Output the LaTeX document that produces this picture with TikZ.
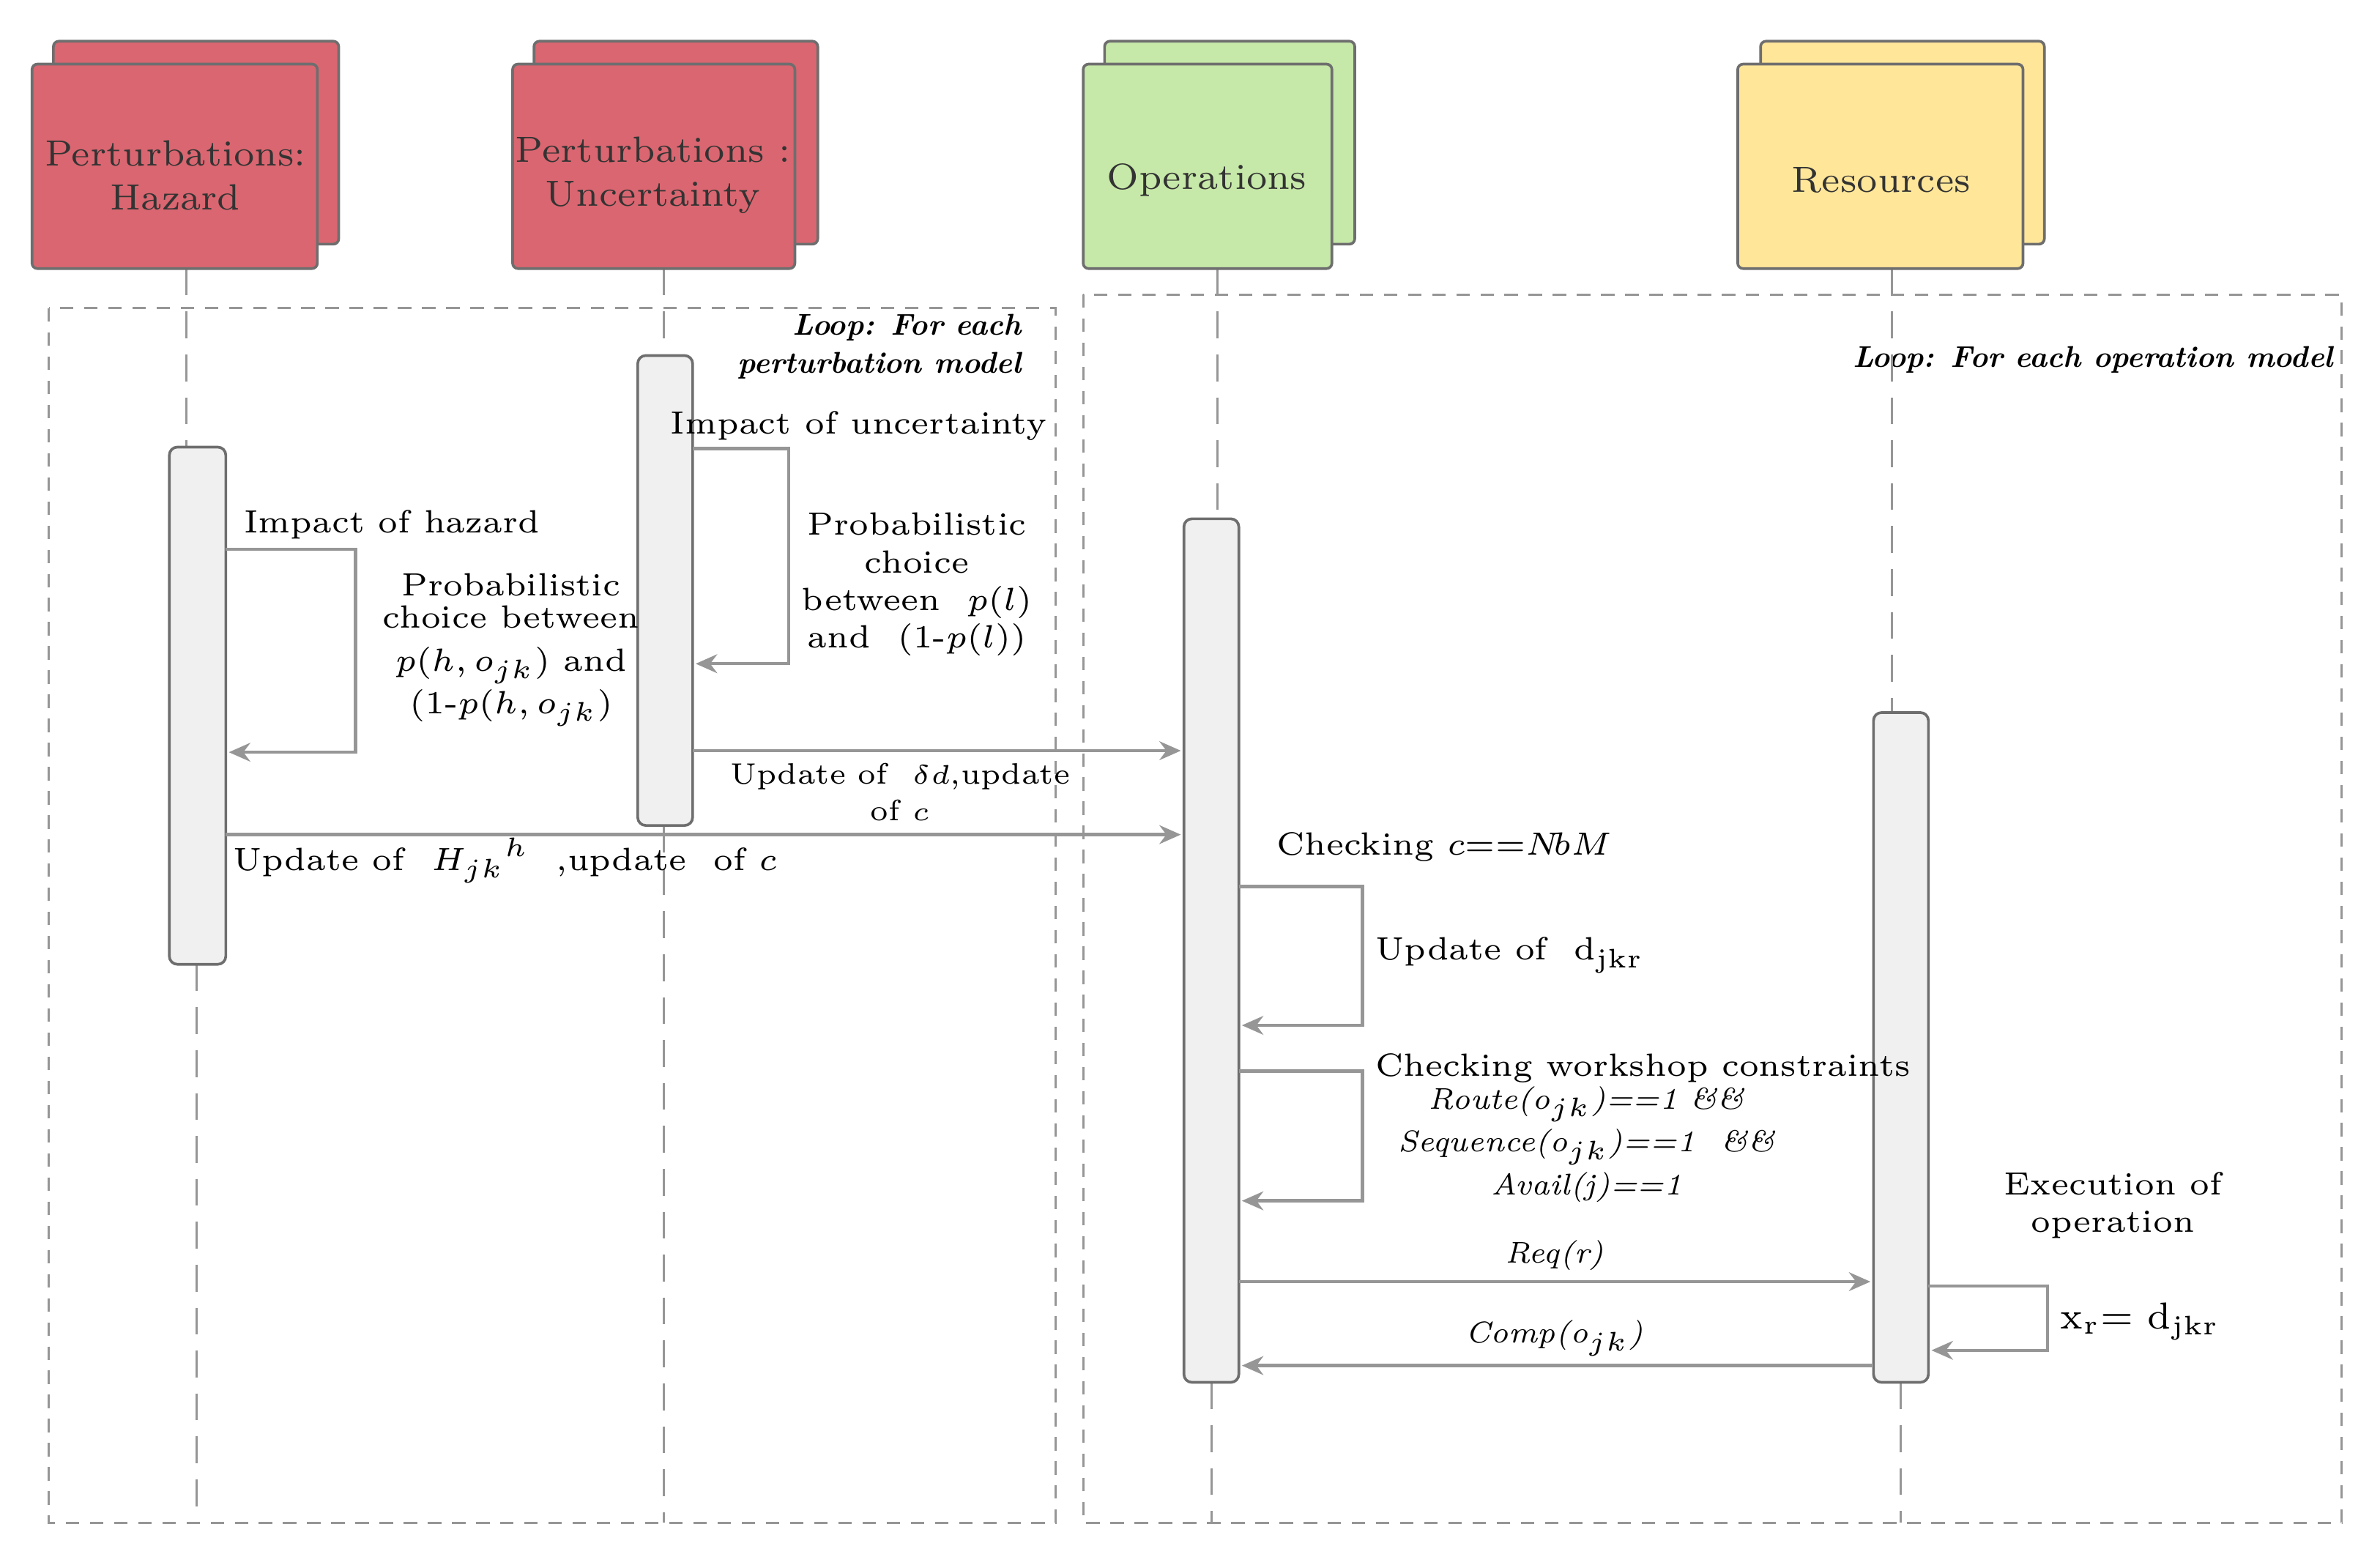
\documentclass[tikz,border=0pt]{standalone}
\usetikzlibrary{arrows.meta}
\definecolor{hz}{RGB}{217,102,112}
\definecolor{op}{RGB}{198,232,168}
\definecolor{rs}{RGB}{255,230,153}
\definecolor{ln}{RGB}{150,150,150}
\definecolor{bd}{RGB}{110,110,110}
\begin{document}
\begin{tikzpicture}[x=0.01cm,y=-0.01cm,
  head/.style={draw=bd,line width=0.5pt,rounded corners=1pt},
  bar/.style={draw=bd,fill=gray!12,line width=0.5pt,rounded corners=1.5pt},
  life/.style={draw=ln,dashed,dash pattern=on 5pt off 3pt,line width=0.4pt},
  frame/.style={draw=ln,dashed,dash pattern=on 2.5pt off 2pt,line width=0.4pt},
  msg/.style={draw=ln,line width=0.6pt,-{Stealth[length=4pt,width=3.5pt]}},
  txt/.style={font=\fontsize{6}{7}\selectfont,align=center,inner sep=0pt},
  htxt/.style={font=\fontsize{6.8}{8.2}\selectfont,align=center,inner sep=0pt,text=black!80}]
\useasboundingbox (0,0) rectangle (1560,1020);
% frames
\draw[frame] (32,202) rectangle (692,998);
\draw[frame] (710,193) rectangle (1535,998);
\node[txt,align=right,anchor=north east,font=\fontsize{5.6}{7.2}\selectfont\itshape\bfseries] (l1) at (670,205) {Loop: For each\\perturbation model};
\node[txt,anchor=east,font=\fontsize{5.6}{7}\selectfont\itshape\bfseries] (l2) at (1530,236) {Loop: For each operation model};
% lifelines
\draw[life] (122,176) -- (122,293); \draw[life] (129,632) -- (129,998);
\draw[life] (435,176) -- (435,233); \draw[life] (435,541) -- (435,998);
\draw[life] (798,176) -- (798,340); \draw[life] (794,906) -- (794,998);
\draw[life] (1240,176) -- (1240,467); \draw[life] (1246,906) -- (1246,998);
% heads
\draw[head,fill=hz] (35,27) rectangle (222,160);
\draw[head,fill=hz] (21,42) rectangle (208,176);
\node[htxt] (hh) at (115,115) {Perturbations:\\Hazard};
\draw[head,fill=hz] (350,27) rectangle (536,160);
\draw[head,fill=hz] (336,42) rectangle (521,176);
\node[htxt] (hu) at (428,115) {Perturbations :\\Uncertainty};
\draw[head,fill=op] (724,27) rectangle (888,160);
\draw[head,fill=op] (710,42) rectangle (873,176);
\node[htxt] (ho) at (791,118) {Operations};
\draw[head,fill=rs] (1154,27) rectangle (1340,160);
\draw[head,fill=rs] (1139,42) rectangle (1326,176);
\node[htxt] (hr) at (1233,118) {Resources};
% bars
\draw[bar] (111,293) rectangle (148,632);
\draw[bar] (418,233) rectangle (454,541);
\draw[bar] (776,340) rectangle (812,906);
\draw[bar] (1228,467) rectangle (1264,906);
% coordinates
\coordinate (a1) at (148,360); \coordinate (a2) at (150,493);
\coordinate (b1) at (454,294); \coordinate (b2) at (456,435);
\coordinate (c1) at (812,581); \coordinate (c2) at (814,672);
\coordinate (d1) at (812,702); \coordinate (d2) at (814,787);
\coordinate (e1) at (1264,843); \coordinate (e2) at (1266,885);
\coordinate (m1) at (454,492); \coordinate (m2) at (774,492);
\coordinate (n1) at (148,547); \coordinate (n2) at (774,547);
\coordinate (r1) at (812,840); \coordinate (r2) at (1226,840);
\coordinate (q1) at (1228,895); \coordinate (q2) at (814,895);
% self messages
\draw[msg] (a1) -- (233,360) -- (233,493) -- (a2);
\draw[msg] (b1) -- (517,294) -- (517,435) -- (b2);
\draw[msg] (c1) -- (893,581) -- (893,672) -- (c2);
\draw[msg] (d1) -- (893,702) -- (893,787) -- (d2);
\draw[msg] (e1) -- (1342,843) -- (1342,885) -- (e2);
\draw[msg] (m1) -- (m2);
\draw[msg] (n1) -- (n2);
\draw[msg] (r1) -- (r2);
\draw[msg] (q1) -- (q2);
% labels
\node[txt] (t1) at (257,344) {Impact of hazard};
\node[txt] (t2) at (335,426) {Probabilistic\\[-1pt]choice between\\[1pt]$p(h,o_{jk})$ and\\[1pt]$(1\mbox{-}p(h,o_{jk})$};
\node[txt] (t3) at (563,279) {Impact of uncertainty};
\node[txt] (t4) at (601,383) {Probabilistic\\choice\\between \ $p(l)$\\and \ $(1\mbox{-}p(l))$};
\node[txt,font=\fontsize{5.5}{6.8}\selectfont] (t5) at (590,519) {Update of \ $\delta d$,update\\of $c$};
\node[txt] (t6) at (331,564) {Update of \ $H_{jk}{}^{h}$ \ ,update \ of $c$};
\node[txt,anchor=west] (t7) at (836,555) {Checking $c$==$N\!bM$};
\node[txt,anchor=west] (t8) at (901,626) {Update of \ d$_{\mathrm{jkr}}$};
\node[txt,anchor=west] (t9) at (901,700) {Checking workshop constraints};
\node[txt,font=\fontsize{5.6}{7}\selectfont\itshape] (t10) at (1040,750) {Route(o$_{jk}$)==1 \&\&\\[1pt]Sequence(o$_{jk}$)==1 \ \&\&\\[1pt]Avail(j)==1};
\node[txt,font=\fontsize{5.6}{7}\selectfont\itshape] (t11) at (1019,823) {Req(r)};
\node[txt,font=\fontsize{5.6}{7}\selectfont\itshape] (t12) at (1019,877) {Comp(o$_{jk}$)};
\node[txt] (t13) at (1385,790) {Execution of\\operation};
\node[txt,anchor=west,font=\fontsize{7}{8}\selectfont] (t14) at (1350,866) {x$_{\mathrm r}$= d$_{\mathrm{jkr}}$};
\end{tikzpicture}
\end{document}
